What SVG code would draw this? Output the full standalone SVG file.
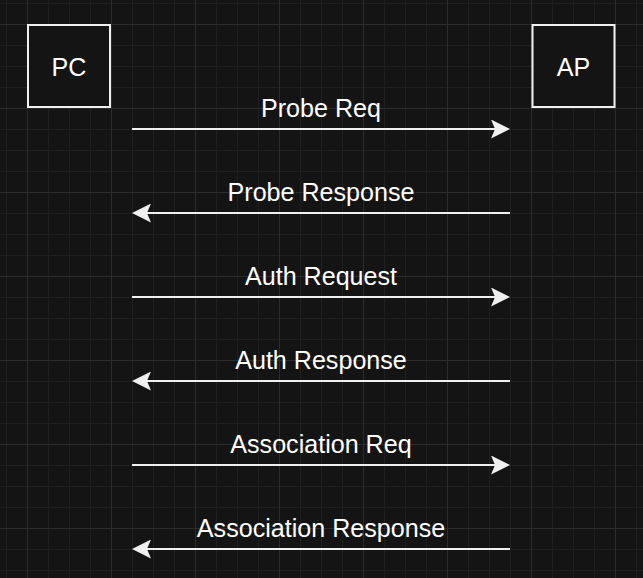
<svg xmlns="http://www.w3.org/2000/svg" width="643" height="578" viewBox="0 0 643 578">
<style>
.node{fill:#141414;stroke:#f0f0f0;stroke-width:2}
.lbl{font-family:"Liberation Sans",Arial,sans-serif;font-size:25.1px;fill:#ffffff;text-anchor:middle}
.msg{stroke:#f0f0f0;stroke-width:2;fill:none;marker-end:url(#arr)}
</style>
<defs>
<pattern id="grid" x="27" y="24" width="84" height="84" patternUnits="userSpaceOnUse">
<rect x="0" y="0" width="84" height="84" fill="#141414"/>
<rect x="21" y="0" width="1" height="84" fill="#1f1f1f"/>
<rect x="42" y="0" width="1" height="84" fill="#1f1f1f"/>
<rect x="63" y="0" width="1" height="84" fill="#1f1f1f"/>
<rect x="0" y="21" width="84" height="1" fill="#1f1f1f"/>
<rect x="0" y="42" width="84" height="1" fill="#1f1f1f"/>
<rect x="0" y="63" width="84" height="1" fill="#1f1f1f"/>
<rect x="0" y="0" width="1" height="84" fill="#2c2c2c"/>
<rect x="0" y="0" width="84" height="1" fill="#2c2c2c"/>
</pattern>
<marker id="arr" viewBox="0 0 19 19" markerWidth="19" markerHeight="19" markerUnits="userSpaceOnUse" refX="6" refY="9.5" orient="auto">
<path d="M0,0 L19,9.5 L0,19 L4,9.5 Z" fill="#f0f0f0"/>
</marker>
</defs>
<rect x="0" y="0" width="643" height="578" fill="url(#grid)"/>
<g id="node-pc">
<rect class="node" x="28" y="25" width="82" height="82"/>
<text class="lbl" x="69" y="76">PC</text>
</g>
<g id="node-ap">
<rect class="node" x="532.5" y="25" width="82" height="82"/>
<text class="lbl" x="573.5" y="76">AP</text>
</g>
<g id="connectors">
<line class="msg" x1="132" y1="129" x2="497" y2="129"/>
<line class="msg" x1="510" y1="213" x2="145" y2="213"/>
<line class="msg" x1="132" y1="297" x2="497" y2="297"/>
<line class="msg" x1="510" y1="381" x2="145" y2="381"/>
<line class="msg" x1="132" y1="465" x2="497" y2="465"/>
<line class="msg" x1="510" y1="549" x2="145" y2="549"/>
</g>
<g id="labels">
<text class="lbl" x="321" y="117">Probe Req</text>
<text class="lbl" x="321" y="201">Probe Response</text>
<text class="lbl" x="321" y="285">Auth Request</text>
<text class="lbl" x="321" y="369">Auth Response</text>
<text class="lbl" x="321" y="453">Association Req</text>
<text class="lbl" x="321" y="537">Association Response</text>
</g>
</svg>
